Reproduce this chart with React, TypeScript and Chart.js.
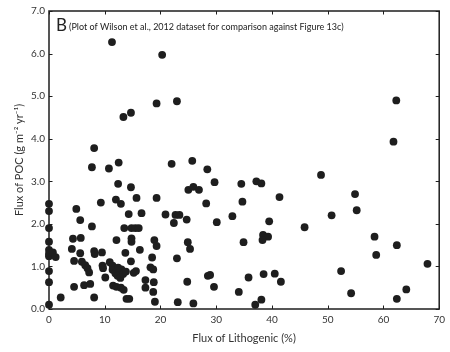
import { useEffect, useRef } from "react";
import { Chart, registerables } from "chart.js";

Chart.register(...registerables);

const lithogenic = [
  0, 0, 0, 0, 0, 0, 0, 0, 0, 0,
  0.7, 1.2, 2.1, 4.9, 5.6, 7.7, 4.3, 5.7, 4.1, 5.6,
  8.1, 8.2, 9.5, 12.1, 4.5, 5.9, 6.5, 6.9, 7.2, 9.6,
  9.7, 10.1, 4.5, 6.3, 7.4, 8.1, 11.5, 12.1, 12.9, 13.4,
  13.9, 14.4, 9.3, 12.0, 12.9, 15.7, 19.3, 12.4, 14.7, 14.3,
  16.6, 20.9, 22.7, 23.4, 22.4, 24.7, 13.5, 14.8, 15.5, 16.1,
  14.8, 14.8, 18.9, 19.3, 13.7, 16.3, 18.5, 22.95, 14.7, 15.2,
  15.6, 18.2, 18.7, 17.3, 18.8, 17.3, 18.7, 19.0, 23.1, 24.8,
  25.9, 10.9, 11.4, 11.4, 11.9, 12.3, 12.8, 13.3, 13.0, 12.4,
  13.8, 11.3, 20.3, 19.3, 22.95, 13.35, 14.7, 8.1, 7.7, 10.75,
  12.5, 22.0, 25.7, 28.4, 29.7, 25.0, 25.9, 26.9, 34.5, 37.2,
  38.1, 48.8, 41.35, 34.7, 28.2, 30.1, 32.9, 39.5, 45.85, 38.4,
  39.3, 38.3, 24.9, 25.3, 34.9, 28.5, 28.9, 29.6, 35.8, 38.5,
  40.5, 41.6, 34.05, 37.0, 38.1, 61.8, 62.3, 54.9, 55.2, 50.7,
  58.4, 62.4, 58.7, 67.9, 52.4, 54.2, 64.1, 62.4,
];

const poc = [
  2.47, 2.30, 1.90, 1.58, 1.39, 1.30, 1.24, 0.89, 0.63, 0.10,
  1.33, 1.22, 0.27, 2.35, 2.09, 1.94, 1.65, 1.67, 1.41, 1.31,
  1.36, 1.29, 1.33, 1.62, 1.13, 1.11, 1.03, 0.96, 0.86, 1.02,
  0.96, 0.74, 0.52, 0.56, 0.59, 0.27, 0.55, 0.52, 0.50, 0.45,
  0.24, 0.24, 2.50, 2.57, 2.47, 2.61, 2.61, 2.94, 2.86, 2.23,
  2.25, 2.22, 2.21, 2.21, 2.02, 2.10, 1.90, 1.90, 1.90, 1.90,
  1.66, 1.58, 1.62, 1.48, 1.32, 1.39, 1.21, 1.19, 1.12, 0.85,
  0.89, 0.98, 0.93, 0.68, 0.63, 0.50, 0.40, 0.17, 0.16, 0.64,
  0.13, 1.10, 1.02, 0.92, 0.84, 0.78, 0.73, 0.82, 0.93, 0.97,
  0.88, 6.27, 5.97, 4.83, 4.88, 4.51, 4.61, 3.78, 3.33, 3.30,
  3.44, 3.41, 3.48, 3.28, 2.98, 2.80, 2.87, 2.80, 2.94, 3.00,
  2.95, 3.15, 2.63, 2.52, 2.48, 2.04, 2.18, 2.06, 1.92, 1.74,
  1.70, 1.62, 1.57, 1.41, 1.57, 0.78, 0.80, 0.52, 0.74, 0.82,
  0.83, 0.64, 0.40, 0.10, 0.22, 3.93, 4.90, 2.70, 2.32, 2.20,
  1.70, 1.50, 1.27, 1.06, 0.89, 0.37, 0.46, 0.24,
];

const xTicks = [0, 10, 20, 30, 40, 50, 60, 70];
const yTicks = [0, 1, 2, 3, 4, 5, 6, 7];

const xTitle = "Flux of Lithogenic (%)";
const yTitle = "Flux of POC (g m\u207B\u00B2 yr\u207B\u00B9)";
const panelLetter = "B";
const panelNote = "(Plot of Wilson et al., 2012 dataset for comparison against Figure 13c)";

const FONT = "Lato, 'Open Sans', 'DejaVu Sans', sans-serif";
const INK = "#1e1e1e";
const TEXT = "#333333";

export default function App() {
  const ref = useRef<HTMLCanvasElement | null>(null);

  useEffect(() => {
    if (!ref.current) return;

    const framePlugin = {
      id: "matlabFrame",
      afterDraw(chart: any) {
        const { ctx, chartArea } = chart;
        const { left, right, top, bottom } = chartArea;
        const xs = chart.scales.x;
        const ys = chart.scales.y;
        ctx.save();
        ctx.strokeStyle = INK;
        ctx.lineWidth = 1.5;
        ctx.strokeRect(left, top, right - left, bottom - top);
        ctx.lineWidth = 1;
        const tl = 3.5;
        ctx.beginPath();
        xTicks.forEach((v) => {
          const px = Math.round(xs.getPixelForValue(v)) + 0.5;
          ctx.moveTo(px, bottom);
          ctx.lineTo(px, bottom - tl);
          ctx.moveTo(px, top);
          ctx.lineTo(px, top + tl);
        });
        yTicks.forEach((v) => {
          const py = Math.round(ys.getPixelForValue(v)) + 0.5;
          ctx.moveTo(left, py);
          ctx.lineTo(left + tl, py);
          ctx.moveTo(right, py);
          ctx.lineTo(right - tl, py);
        });
        ctx.stroke();

        ctx.fillStyle = "#222222";
        ctx.textBaseline = "alphabetic";
        ctx.textAlign = "left";
        ctx.font = `17px ${FONT}`;
        ctx.fillText(panelLetter, left + 7, top + 20);
        const w = ctx.measureText(panelLetter).width;
        ctx.font = `9px ${FONT}`;
        ctx.fillText(panelNote, left + 9 + w, top + 19, 312);
        ctx.restore();
      },
    };

    const chart = new Chart(ref.current, {
      type: "scatter",
      data: {
        datasets: [
          {
            data: lithogenic.map((x, i) => ({ x, y: poc[i] })),
            backgroundColor: INK,
            borderWidth: 0,
            pointRadius: 3.9,
            pointHoverRadius: 3.9,
            clip: false as any,
          },
        ],
      },
      options: {
        responsive: false,
        animation: false,
        layout: { padding: { left: 0, right: 7, top: 11, bottom: 0 } },
        plugins: {
          legend: { display: false },
          tooltip: { enabled: false },
        },
        scales: {
          x: {
            type: "linear",
            min: 0,
            max: 70,
            afterBuildTicks: (s: any) => {
              s.ticks = xTicks.map((value) => ({ value }));
            },
            afterFit: (s: any) => {
              s.height = 43;
            },
            grid: { display: false, drawTicks: false },
            border: { display: false },
            ticks: {
              padding: 5,
              color: TEXT,
              font: { family: FONT, size: 10 },
              callback: (v: any) => String(v),
            },
            title: {
              display: true,
              text: xTitle,
              color: TEXT,
              font: { family: FONT, size: 11 },
              padding: { top: 0, bottom: 7 },
            },
          },
          y: {
            type: "linear",
            min: 0,
            max: 7,
            afterBuildTicks: (s: any) => {
              s.ticks = yTicks.map((value) => ({ value }));
            },
            afterFit: (s: any) => {
              s.width = 49;
            },
            grid: { display: false, drawTicks: false },
            border: { display: false },
            ticks: {
              padding: 4,
              color: TEXT,
              font: { family: FONT, size: 10 },
              callback: (v: any) => Number(v).toFixed(1),
            },
            title: {
              display: true,
              text: yTitle,
              color: TEXT,
              font: { family: FONT, size: 11 },
              padding: { top: 13, bottom: 0 },
            },
          },
        },
      },
      plugins: [framePlugin],
    });

    return () => chart.destroy();
  }, []);

  return (
    <div style={{ position: "absolute", left: 0, top: 0, width: 450, height: 352, background: "#ffffff" }}>
      <canvas ref={ref} width={450} height={352} style={{ display: "block" }} />
    </div>
  );
}
